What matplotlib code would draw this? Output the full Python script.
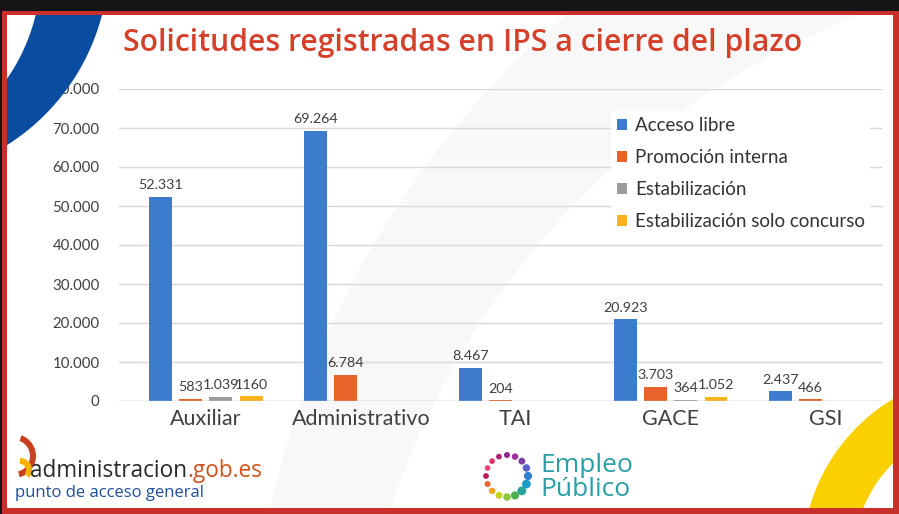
import numpy as np
import matplotlib
matplotlib.use("Agg")
import matplotlib.pyplot as plt
from matplotlib.patches import Rectangle, PathPatch, Circle, Wedge
from matplotlib.path import Path
from matplotlib.transforms import Affine2D

# ---------------- data ----------------
categories = ["Auxiliar", "Administrativo", "TAI", "GACE", "GSI"]
series_names = ["Acceso libre", "Promoción interna", "Estabilización",
                "Estabilización solo concurso"]
acceso_libre = [52331, 69264, 8467, 20923, 2437]
promocion_interna = [583, 6784, 204, 3703, 466]
estabilizacion = [1039, None, None, 364, None]
estab_solo_concurso = [1160, None, None, 1052, None]
# labels as printed on the slide
acceso_libre_lbl = ["52.331", "69.264", "8.467", "20.923", "2.437"]
promocion_interna_lbl = ["583", "6.784", "204", "3.703", "466"]
estabilizacion_lbl = ["1.039", None, None, "364", None]
estab_solo_concurso_lbl = ["1160", None, None, "1.052", None]
yticks = [0, 10000, 20000, 30000, 40000, 50000, 60000, 70000, 80000]
ytick_labels = ["0", "10.000", "20.000", "30.000", "40.000", "50.000",
                "60.000", "70.000", "80.000"]
title = "Solicitudes registradas en IPS a cierre del plazo"

colors = ["#3d7bcc", "#e8632a", "#9b9b9b", "#f7b41b"]
FONT = ["Lato", "DejaVu Sans"]
plt.rcParams["font.family"] = FONT

W, H = 899, 514
fig = plt.figure(figsize=(W / 100, H / 100), dpi=100, facecolor="#151515")
px = Affine2D().scale(1 / W, -1 / H).translate(0, 1) + fig.transFigure

# frame
fig.add_artist(Rectangle((2, 11), W - 2, H - 11, transform=px,
                         facecolor="#c9302c", edgecolor="none", zorder=-3))
frame_inner = Rectangle((7, 15), 886, 493, transform=px,
                        facecolor="white", edgecolor="none", zorder=-2)
fig.add_artist(frame_inner)

def ring_path(c1, r1, c2, r2, n=400):
    t = np.linspace(0, 2 * np.pi, n)
    o = np.c_[c1[0] + r1 * np.cos(t), c1[1] + r1 * np.sin(t)]
    i = np.c_[c2[0] + r2 * np.cos(t[::-1]), c2[1] + r2 * np.sin(t[::-1])]
    verts = np.vstack([o, [o[0]], i, [i[0]]])
    codes = ([Path.MOVETO] + [Path.LINETO] * (n - 1) + [Path.CLOSEPOLY] +
             [Path.MOVETO] + [Path.LINETO] * (n - 1) + [Path.CLOSEPOLY])
    return Path(verts, codes)

# faint watermark arc
wm = PathPatch(ring_path((1150, 700), 900, (1150, 760), 800), transform=px,
               facecolor="#f8f8f8", edgecolor="none", zorder=-1)
fig.add_artist(wm)
wm.set_clip_path(frame_inner)

# blue crescent (top-left)
blue = PathPatch(ring_path((-110, -40), 219, (-150, -30), 191), transform=px,
                 facecolor="#0a4ca0", edgecolor="none", zorder=5)
fig.add_artist(blue)
blue.set_clip_path(frame_inner)

# yellow crescent (bottom-right)
yel = PathPatch(ring_path((990, 560), 188, (990, 560), 137), transform=px,
                facecolor="#fbd000", edgecolor="none", zorder=-1)
fig.add_artist(yel)
yel.set_clip_path(frame_inner)

# ---------------- chart ----------------
ax = fig.add_axes([119 / W, 1 - 401 / H, (883 - 119) / W, (401 - 89) / H])
ax.set_facecolor("none")
x = np.arange(len(categories))
step, width = 0.195, 0.148
all_vals = [acceso_libre, promocion_interna, estabilizacion, estab_solo_concurso]
all_lbls = [acceso_libre_lbl, promocion_interna_lbl, estabilizacion_lbl,
            estab_solo_concurso_lbl]
handles = []
for k, (vals, lbls) in enumerate(zip(all_vals, all_lbls)):
    v = np.array([np.nan if a is None else a for a in vals], dtype=float)
    xs = x + (k - 1.5) * step
    b = ax.bar(xs, np.nan_to_num(v), width=width, color=colors[k],
               label=series_names[k], zorder=3)
    handles.append(b)
    for xi, vi, li in zip(xs, v, lbls):
        if li is None:
            continue
        ax.annotate(li, (xi, vi), xytext=(0, 4), textcoords="offset points",
                    ha="center", va="bottom", fontsize=10.3, color="#404040")

ax.set_xlim(-0.56, 4.37)
ax.set_ylim(0, 80000)
ax.set_yticks(yticks)
ax.set_yticklabels(ytick_labels)
ax.set_xticks(x)
ax.set_xticklabels(categories)
for s in ax.spines.values():
    s.set_visible(False)
ax.grid(axis="y", color="#d9d9d9", linewidth=1, zorder=0)
ax.axhline(0, color="#c8c8c8", linewidth=1, zorder=4)
ax.tick_params(axis="y", length=0, pad=14, labelsize=10.8, labelcolor="#404040")
ax.tick_params(axis="x", length=0, pad=6, labelsize=15.5, labelcolor="#404040")

leg = ax.legend(handles=handles, loc="upper left",
                bbox_to_anchor=((602 - 119) / (883 - 119), 1 - (102 - 89) / 312),
                frameon=True, facecolor="white", edgecolor="none", framealpha=1,
                fontsize=13.5, handlelength=0.55, handleheight=0.55,
                handletextpad=0.4, labelspacing=0.8, borderpad=0.3,
                labelcolor="#333333")
leg.set_zorder(6)

# ---------------- title ----------------
fig.text(123 / W, 1 - 43 / H, title, ha="left", va="center", fontsize=21.7,
         color="#d5402b", weight="semibold",
         family=["Open Sans", "DejaVu Sans"])

# ---------------- logos ----------------
sw = Wedge((14, 456), 22, -70, 75, width=6, transform=px,
           facecolor="#c8401e", edgecolor="none")
fig.add_artist(sw)
sw2 = Wedge((20, 470), 12, -90, 40, width=6, transform=px,
            facecolor="#f4b300", edgecolor="none")
fig.add_artist(sw2)
t1 = fig.text(30 / W, 1 - 471 / H, "administracion", ha="left", va="center",
              fontsize=16.3, color="#2a2a2a", weight="medium",
              family=["Open Sans", "DejaVu Sans"])
fig.canvas.draw()
bb = t1.get_window_extent()
fig.text(bb.x1 / W, 1 - 471 / H, ".gob.es", ha="left", va="center",
         fontsize=16.3, color="#d0521c", weight="medium",
         family=["Open Sans", "DejaVu Sans"])
fig.text(15 / W, 1 - 493 / H, "punto de acceso general", ha="left",
         va="center", fontsize=12, color="#1f4f9a",
         family=["Open Sans", "DejaVu Sans"])

dot_cols = ["#8e2a8c", "#b0237a", "#d9306b", "#e8467a", "#c2185b", "#e86a3a",
            "#f0a31e", "#c8d21e", "#8dc63f", "#4caf50", "#26a69a", "#1e9bc8",
            "#2f7fd0", "#5b5fc7", "#7e3ea8", "#a12f9a"]
cx, cy, rr = 507, 476, 21
for i, c in enumerate(dot_cols):
    a = np.pi / 2 + 2 * np.pi * i / len(dot_cols)
    size = 4.6 - 1.8 * abs(np.sin(a / 2 + 0.3))
    fig.add_artist(Circle((cx + rr * np.cos(a), cy - rr * np.sin(a)), size,
                          transform=px, facecolor=c, edgecolor="none"))
fig.text(540 / W, 1 - 465 / H, "Empleo", ha="left", va="center", fontsize=19,
         color="#2a9fa5", family=["Open Sans", "DejaVu Sans"])
fig.text(540 / W, 1 - 489 / H, "Público", ha="left", va="center", fontsize=19,
         color="#2a9fa5", family=["Open Sans", "DejaVu Sans"])

fig.savefig("out.png", dpi=100, facecolor=fig.get_facecolor())
